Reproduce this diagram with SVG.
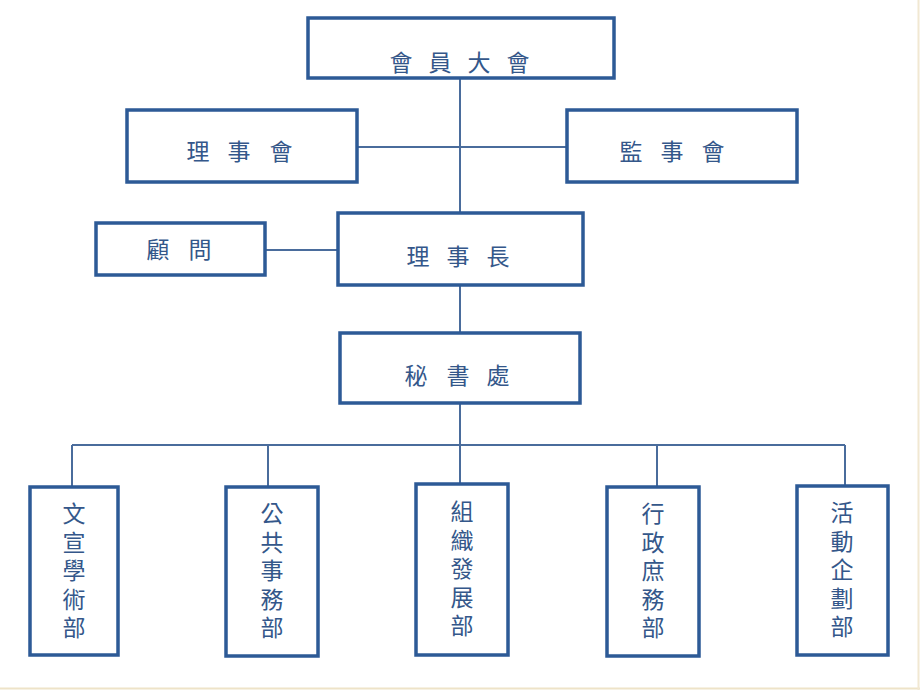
<svg xmlns="http://www.w3.org/2000/svg" width="920" height="690" viewBox="0 0 920 690">
  <style>
    .box { fill: #ffffff; stroke: #2d5a96; stroke-width: 3.5; }
    .ln { fill: none; stroke: #4a6c9c; stroke-width: 2; }
    .t { font-family: "Noto Sans CJK TC", "Noto Sans CJK SC", sans-serif; font-size: 23px; fill: #34578a; text-anchor: middle; }
    .v { font-family: "Noto Sans CJK TC", "Noto Sans CJK SC", sans-serif; font-size: 23px; fill: #34578a; writing-mode: vertical-rl; text-orientation: upright; letter-spacing: 5.5px; text-anchor: start; }
  </style>
  <rect x="0" y="0" width="920" height="690" fill="#ffffff"/>
  <line x1="0" y1="688.5" x2="920" y2="688.5" stroke="#eee3c8" stroke-width="2"/>
  <line x1="918.5" y1="0" x2="918.5" y2="690" stroke="#f1e8d2" stroke-width="2"/>

  <g id="connectors">
    <line class="ln" x1="460" y1="78" x2="460" y2="213"/>
    <line class="ln" x1="357" y1="147" x2="567" y2="147"/>
    <line class="ln" x1="265" y1="250" x2="338" y2="250"/>
    <line class="ln" x1="460" y1="285" x2="460" y2="333"/>
    <line class="ln" x1="460" y1="403" x2="460" y2="484"/>
    <line class="ln" x1="72" y1="445" x2="845" y2="445"/>
    <line class="ln" x1="72" y1="445" x2="72" y2="487"/>
    <line class="ln" x1="268" y1="445" x2="268" y2="487"/>
    <line class="ln" x1="657" y1="445" x2="657" y2="487"/>
    <line class="ln" x1="845" y1="445" x2="845" y2="486"/>
  </g>

  <g id="n-general">
    <rect class="box" x="308" y="18" width="306" height="60"/>
    <text class="t" x="401 440 479 518" y="71">會員大會</text>
  </g>
  <g id="n-board">
    <rect class="box" x="127" y="110" width="230" height="72"/>
    <text class="t" x="198 239 281" y="160">理事會</text>
  </g>
  <g id="n-supervisors">
    <rect class="box" x="567" y="110" width="230" height="72"/>
    <text class="t" x="631 672 713" y="160">監事會</text>
  </g>
  <g id="n-advisor">
    <rect class="box" x="96" y="223" width="169" height="52"/>
    <text class="t" x="158 200" y="258">顧問</text>
  </g>
  <g id="n-chair">
    <rect class="box" x="338" y="213" width="245" height="72"/>
    <text class="t" x="418 458 498" y="265">理事長</text>
  </g>
  <g id="n-secretariat">
    <rect class="box" x="340" y="333" width="240" height="70"/>
    <text class="t" x="416 458 498" y="384">秘書處</text>
  </g>

  <g id="n-dept1">
    <rect class="box" x="30" y="487" width="88" height="168"/>
    <text class="v" x="74" y="502">文宣學術部</text>
  </g>
  <g id="n-dept2">
    <rect class="box" x="226" y="487" width="92" height="169"/>
    <text class="v" x="272" y="502">公共事務部</text>
  </g>
  <g id="n-dept3">
    <rect class="box" x="416" y="484" width="92" height="171"/>
    <text class="v" x="462" y="500">組織發展部</text>
  </g>
  <g id="n-dept4">
    <rect class="box" x="607" y="487" width="92" height="169"/>
    <text class="v" x="653" y="502">行政庶務部</text>
  </g>
  <g id="n-dept5">
    <rect class="box" x="797" y="486" width="91" height="169"/>
    <text class="v" x="842" y="501">活動企劃部</text>
  </g>
</svg>
